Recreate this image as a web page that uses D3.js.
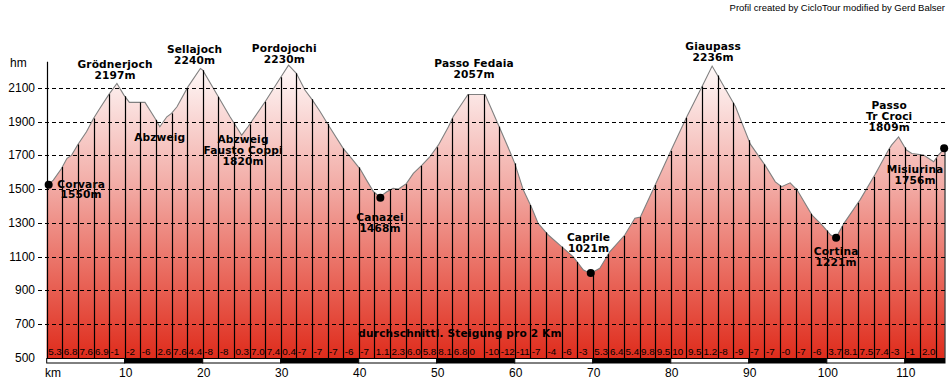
<!DOCTYPE html>
<html>
<head>
<meta charset="utf-8">
<script src="https://cdn.jsdelivr.net/npm/d3@7"></script>
<style>
  html, body { margin: 0; padding: 0; background: #fff; }
  svg { display: block; }
  .tick-y, .tick-km { font-family: 'Liberation Sans', Arial, sans-serif; font-size: 12px; }
  .grad { font-family: 'Liberation Sans', Arial, sans-serif; font-size: 9.8px; }
  .place { font-family: 'DejaVu Sans', Verdana, sans-serif; font-size: 10.6px; font-weight: bold; letter-spacing: 0.15px; }
  .credit { font-family: 'Liberation Sans', Arial, sans-serif; font-size: 9.5px; }
</style>
</head>
<body>
<div id="chart"></div>
<script>
// profile points: km / altitude
var profileKm = [0, 0.3, 0.85, 1.9, 2.6, 3.2, 4.0, 5.1, 6.0, 6.8, 8.0, 9.0, 9.9, 10.6, 12.6, 13.9, 14.5, 15.4, 16.0, 16.7,
  18.1, 19.7, 20.0, 22.0, 23.5, 25.0, 25.8, 28.0, 29.9, 31.0, 32.0, 33.1, 34.0, 35.0, 36.1, 38.0, 39.1, 40.2, 41.0, 41.9,
  42.7, 43.6, 44.4, 45.1, 46.1, 47.0, 48.1, 49.1, 50.2, 51.5, 52.1, 54.0, 56.2, 58.1, 59.4, 60.0, 61.1, 62.2, 63.0, 64.3,
  66.0, 67.5, 68.8, 69.7, 70.9, 72.2, 74.1, 75.4, 76.1, 78.0, 80.1, 82.1, 84.2, 85.3, 86.3, 88.3, 90.2, 92.1, 93.4, 94.2,
  95.3, 96.2, 98.1, 99.4, 100.5, 101.2, 102.2, 104.3, 106.2, 107.9, 108.3, 109.2, 110.2, 110.9, 112.4, 113.7, 114.3, 115.1];
var profileAlt = [1525, 1530, 1553, 1622, 1682, 1701, 1764, 1839, 1918, 1977, 2062, 2125, 2056, 2013, 2013, 1918, 1869, 1928, 1948, 1987,
  2105, 2214, 2204, 2046, 1928, 1819, 1869, 2017, 2155, 2234, 2185, 2086, 2031, 1962, 1879, 1741, 1680, 1617, 1553, 1484,
  1454, 1484, 1504, 1500, 1532, 1593, 1642, 1690, 1760, 1869, 1928, 2060, 2060, 1859, 1720, 1652, 1494, 1386, 1297, 1228,
  1159, 1099, 1021, 1001, 1031, 1130, 1228, 1327, 1335, 1524, 1736, 1932, 2125, 2228, 2149, 1987, 1766, 1640, 1543, 1514,
  1537, 1494, 1346, 1287, 1228, 1214, 1297, 1439, 1588, 1731, 1760, 1809, 1731, 1711, 1701, 1662, 1701, 1741];

// average gradient per 2 km segment
var gradients = ['5.3', '6.8', '7.6', '6.9', '-1', '-2', '-6', '2.6', '7.6', '4.4', '-8', '-8', '0.3', '7.0', '7.4',
  '0.4', '-7', '-7', '-7', '-6', '-7', '1.1', '2.3', '6.0', '5.8', '8.1', '6.8', '0', '-10', '-12', '-11', '-7', '-4',
  '-6', '-3', '5.3', '6.4', '5.4', '9.8', '9.5', '10', '9.5', '1.2', '-8', '-9', '-7', '-7', '-0', '-7', '-6', '3.7',
  '8.1', '7.5', '7.4', '-3', '-1', '2.0'];

var altTicks = [500, 700, 900, 1100, 1300, 1500, 1700, 1900, 2100];
var kmTicks = [10, 20, 30, 40, 50, 60, 70, 80, 90, 100, 110];

// place names: text lines, centre km, altitude of first baseline
var placeLines = [
  ['Grödnerjoch', '2197m'], ['Sellajoch', '2240m'], ['Pordojochi', '2230m'], ['Abzweig'],
  ['Abzweig', 'Fausto Coppi', '1820m'], ['Corvara', '1550m'], ['Canazei', '1468m'], ['Passo Fedaia', '2057m'],
  ['Caprile', '1021m'], ['Giaupass', '2236m'], ['Cortina', '1221m'], ['Passo', 'Tr Croci', '1809m'], ['Misiurina', '1756m']
];
var placeKm = [8.76, 18.95, 30.46, 14.49, 25.17, 4.42, 42.73, 54.78, 69.46, 85.42, 101.19, 108.0, 111.32];
var placeAlt = [2216, 2306, 2311, 1784, 1770, 1509, 1312, 2220, 1194, 2322, 1109, 1972, 1596];

// towns marked with a dot
var dotKm = [0.25, 42.77, 69.74, 101.19, 115.04];
var dotAlt = [1526, 1448, 1003, 1212, 1741];

var W = 950, H = 383;
var totalKm = 115.15;

function drawProfile () {
  var svg = d3.select('#chart').append('svg')
    .attr('width', W)
    .attr('height', H);

  var x = d3.scaleLinear().domain([0, totalKm]).range([46.7, 945]);
  var y = d3.scaleLinear().domain([500, 2254]).range([358, 61.7]);

  var points = profileKm.map(function (k, i) { return [k, profileAlt[i]]; });
  var altAt = function (k) {
    var i = d3.bisector(function (d) { return d[0]; }).left(points, k);
    if (i <= 0) return points[0][1];
    if (i >= points.length) return points[points.length - 1][1];
    var a = points[i - 1], b = points[i];
    return a[1] + (b[1] - a[1]) * (k - a[0]) / (b[0] - a[0]);
  };

  // fill gradient (white at the top, red at the bottom)
  var grad = svg.append('defs').append('linearGradient')
    .attr('id', 'fillGrad')
    .attr('gradientUnits', 'userSpaceOnUse')
    .attr('x1', 0).attr('x2', 0)
    .attr('y1', y(2254)).attr('y2', y(500));
  grad.append('stop').attr('offset', '0').attr('stop-color', '#fffcfc');
  grad.append('stop').attr('offset', '0.42').attr('stop-color', '#f2aba5');
  grad.append('stop').attr('offset', '0.72').attr('stop-color', '#e9695d');
  grad.append('stop').attr('offset', '1').attr('stop-color', '#df2c1c');

  var area = d3.area()
    .x(function (d) { return x(d[0]); })
    .y0(y(500))
    .y1(function (d) { return y(d[1]); });
  svg.append('path')
    .datum(points)
    .attr('d', area)
    .attr('fill', 'url(#fillGrad)');

  var line = d3.line()
    .x(function (d) { return x(d[0]); })
    .y(function (d) { return y(d[1]); });
  svg.append('path')
    .datum(points)
    .attr('d', line)
    .attr('fill', 'none')
    .attr('stroke', '#808080')
    .attr('stroke-width', 1.1);

  // vertical lines every 2 km
  var segKm = d3.range(2, totalKm, 2);
  svg.selectAll('line.seg')
    .data(segKm)
    .enter().append('line')
    .attr('class', 'seg')
    .attr('x1', function (d) { return Math.round(x(d)) + 0.5; })
    .attr('x2', function (d) { return Math.round(x(d)) + 0.5; })
    .attr('y1', y(500))
    .attr('y2', function (d) { return y(altAt(d)); })
    .attr('stroke', '#000')
    .attr('stroke-width', 1.2);
  // right edge
  svg.append('line')
    .attr('x1', x(totalKm)).attr('x2', x(totalKm))
    .attr('y1', y(500)).attr('y2', y(altAt(totalKm)))
    .attr('stroke', '#000');

  // dashed grid lines
  svg.selectAll('line.grid')
    .data(altTicks.slice(1))
    .enter().append('line')
    .attr('class', 'grid')
    .attr('x1', 38).attr('x2', 946)
    .attr('y1', function (d) { return Math.round(y(d)) + 0.5; })
    .attr('y2', function (d) { return Math.round(y(d)) + 0.5; })
    .attr('stroke', '#000')
    .attr('stroke-dasharray', '4,3');

  // y axis
  svg.append('line')
    .attr('x1', Math.round(x(0)) + 0.5).attr('x2', Math.round(x(0)) + 0.5)
    .attr('y1', y(2254)).attr('y2', y(500))
    .attr('stroke', '#000')
    .attr('stroke-width', 1.2);
  svg.selectAll('text.tick-y')
    .data(altTicks)
    .enter().append('text')
    .attr('class', 'tick-y')
    .attr('x', 35)
    .attr('y', function (d) { return y(d) + 4; })
    .attr('text-anchor', 'end')
    .text(function (d) { return d; });
  svg.append('text').attr('class', 'tick-y').attr('x', 10).attr('y', 67).text('hm');

  // km bar: alternating white / black blocks of 10 km
  var blocks = d3.range(0, totalKm, 10);
  svg.selectAll('rect.kmbar')
    .data(blocks)
    .enter().append('rect')
    .attr('class', 'kmbar')
    .attr('x', function (d) { return x(d); })
    .attr('width', function (d) { return x(Math.min(d + 10, totalKm)) - x(d); })
    .attr('y', 358.5)
    .attr('height', 4.5)
    .attr('fill', function (d, i) { return i % 2 === 0 ? '#fff' : '#000'; })
    .attr('stroke', '#000')
    .attr('stroke-width', 1);
  svg.selectAll('text.tick-km')
    .data(kmTicks)
    .enter().append('text')
    .attr('class', 'tick-km')
    .attr('x', function (d) { return x(d) + 1; })
    .attr('y', 377)
    .attr('text-anchor', 'middle')
    .text(function (d) { return d; });
  svg.append('text').attr('class', 'tick-km').attr('x', 45).attr('y', 377).text('km');

  // gradient labels
  svg.selectAll('text.grad')
    .data(gradients)
    .enter().append('text')
    .attr('class', 'grad')
    .attr('x', function (d, i) { return x(i * 2) + 1.5; })
    .attr('y', 355)
    .text(function (d) { return d; });

  svg.append('text')
    .attr('class', 'place')
    .attr('x', 460)
    .attr('y', 336.5)
    .attr('text-anchor', 'middle')
    .text('durchschnittl. Steigung pro 2 Km');

  // dots
  svg.selectAll('circle.town')
    .data(dotKm)
    .enter().append('circle')
    .attr('class', 'town')
    .attr('cx', function (d) { return x(d); })
    .attr('cy', function (d, i) { return y(dotAlt[i]); })
    .attr('r', 4)
    .attr('fill', '#000');

  // place labels
  var lab = svg.selectAll('text.place-lab')
    .data(placeLines)
    .enter().append('text')
    .attr('class', 'place place-lab')
    .attr('text-anchor', 'middle')
    .attr('x', function (d, i) { return x(placeKm[i]); })
    .attr('y', function (d, i) { return y(placeAlt[i]); });
  lab.selectAll('tspan')
    .data(function (d, i) { return d.map(function (t) { return { t: t, i: i }; }); })
    .enter().append('tspan')
    .attr('x', function (d) { return x(placeKm[d.i]); })
    .attr('dy', function (d, j) { return j === 0 ? 0 : 10.9; })
    .text(function (d) { return d.t; });

  // credit
  svg.append('text')
    .attr('class', 'credit')
    .attr('x', 945)
    .attr('y', 11)
    .attr('text-anchor', 'end')
    .text('Profil created by CicloTour modified by Gerd Balser');
}

window.addEventListener('load', function () {
  drawProfile();
});
</script>
</body>
</html>
